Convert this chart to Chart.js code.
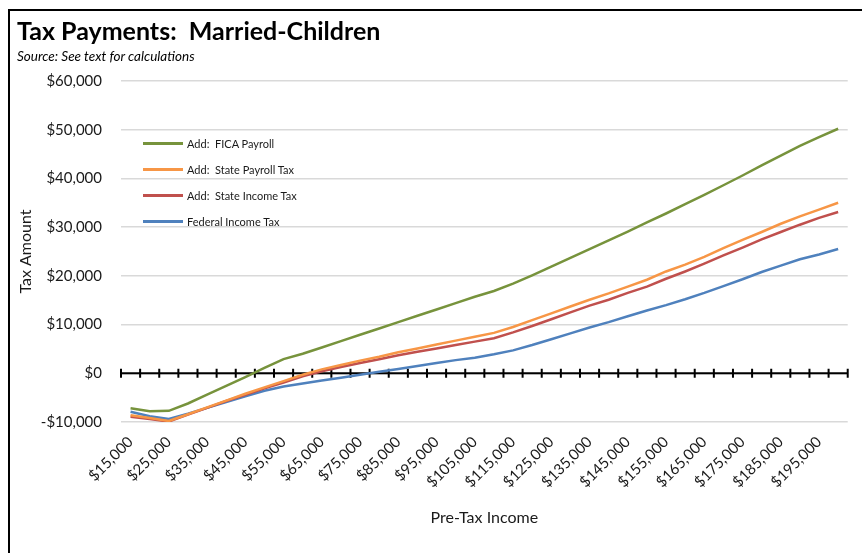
<!DOCTYPE html>
<html>
<head>
<meta charset="utf-8">
<script src="https://cdn.jsdelivr.net/npm/chart.js@4.4.1/dist/chart.umd.min.js"></script>
<style>
  html, body { margin: 0; padding: 0; background: #fff; overflow: hidden; }
  #wrap { position: relative; width: 862px; height: 553px; }
  #frame { position: absolute; left: 8px; top: 9px; width: 900px; height: 600px; border: 2px solid #000; }
  #title { position: absolute; left: 17px; top: 15px; font: bold 25px Lato, sans-serif; color: #000; white-space: pre; }
  #subtitle { position: absolute; left: 17px; top: 48px; font: italic 13.5px Lato, sans-serif; color: #000; }
  #legend { position: absolute; left: 143px; top: 130px; font: 11px Lato, sans-serif; color: #1a1a1a; }
  .item { height: 26.2px; display: flex; align-items: center; white-space: pre; }
  .swatch { width: 40px; height: 3px; margin-right: 4px; }
  canvas { position: absolute; left: 0; top: 0; }
</style>
</head>
<body>
<div id="wrap">
  <div id="frame"></div>
  <canvas id="taxChart" width="862" height="553"></canvas>
  <div id="title">Tax Payments:  Married-Children</div>
  <div id="subtitle">Source:  See text for calculations</div>
  <div id="legend"></div>
</div>
<script>
// Pre-tax income categories
let incomes = [15000, 20000, 25000, 30000, 35000, 40000, 45000, 50000, 55000, 60000,
    65000, 70000, 75000, 80000, 85000, 90000, 95000, 100000, 105000, 110000,
    115000, 120000, 125000, 130000, 135000, 140000, 145000, 150000, 155000, 160000,
    165000, 170000, 175000, 180000, 185000, 190000, 195000, 200000];

// Cumulative tax amounts
let ficaPayroll = [-7200, -7800, -7700, -6200, -4400, -2600, -800, 1100, 2900, 4000,
    5300, 6600, 7900, 9200, 10500, 11800, 13100, 14400, 15700, 16900,
    18400, 20100, 21900, 23700, 25500, 27300, 29100, 31000, 32800, 34700,
    36600, 38600, 40600, 42700, 44700, 46700, 48500, 50200];
let statePayroll = [-8600, -9200, -9800, -8400, -7000, -5600, -4200, -2900, -1600, -300,
    800, 1700, 2600, 3400, 4300, 5100, 5900, 6700, 7500, 8300,
    9500, 10900, 12300, 13700, 15100, 16400, 17800, 19200, 20900, 22300,
    23900, 25700, 27400, 29000, 30700, 32200, 33600, 35000];
let stateIncome = [-8900, -9400, -9900, -8500, -7100, -5700, -4400, -3100, -1900, -600,
    400, 1300, 2100, 2900, 3700, 4400, 5100, 5800, 6500, 7200,
    8400, 9700, 11100, 12500, 13900, 15100, 16500, 17800, 19400, 20900,
    22500, 24200, 25800, 27500, 29000, 30500, 31900, 33100];
let federalIncome = [-7900, -8800, -9400, -8300, -7100, -5900, -4700, -3600, -2700, -2100,
    -1500, -900, -300, 300, 900, 1500, 2100, 2700, 3200, 3900,
    4700, 5800, 7000, 8200, 9400, 10500, 11700, 12900, 14000, 15200,
    16500, 17900, 19300, 20800, 22100, 23400, 24400, 25500];

let seriesNames = ['Add:  FICA Payroll', 'Add:  State Payroll Tax', 'Add:  State Income Tax', 'Federal Income Tax'];
let seriesColors = ['#77933C', '#F79646', '#C0504D', '#4F81BD'];
let seriesData = [ficaPayroll, statePayroll, stateIncome, federalIncome];

let yMin = -10000, yMax = 60000, yStep = 10000;

function money(v) {
    let s = '$' + Math.abs(v).toLocaleString('en-US');
    return v < 0 ? '-' + s : s;
}

// black zero axis with tick marks between categories
const zeroAxis = {
    id: 'zeroAxis',
    beforeDatasetsDraw(chart) {
        const { ctx, chartArea, scales: { x, y } } = chart;
        const y0 = y.getPixelForValue(0);
        const half = (x.getPixelForValue(1) - x.getPixelForValue(0)) / 2;
        ctx.save();
        ctx.strokeStyle = '#000';
        ctx.lineWidth = 2;
        ctx.beginPath();
        ctx.moveTo(chartArea.left, y0);
        ctx.lineTo(chartArea.right, y0);
        for (let i = 0; i <= incomes.length; i++) {
            let px = i < incomes.length ? x.getPixelForValue(i) - half : x.getPixelForValue(i - 1) + half;
            ctx.moveTo(px, y0 - 4.5);
            ctx.lineTo(px, y0 + 4.5);
        }
        ctx.stroke();
        ctx.restore();
    }
};

let datasets = seriesData.map((d, i) => ({
    label: seriesNames[i],
    data: d,
    borderColor: seriesColors[i],
    backgroundColor: seriesColors[i],
    borderWidth: 2.5,
    pointRadius: 0,
    tension: 0,
    fill: false
}));

// HTML legend inside the plot
let legend = document.getElementById('legend');
datasets.forEach(ds => {
    let row = document.createElement('div');
    row.className = 'item';
    row.innerHTML = '<span class="swatch" style="background:' + ds.borderColor + '"></span><span>' + ds.label + '</span>';
    legend.appendChild(row);
});

let ctx = document.getElementById('taxChart').getContext('2d');
let taxChart = new Chart(ctx, {
    type: 'line',
    data: {
        labels: incomes.map(money),
        datasets: datasets
    },
    options: {
        responsive: false,
        animation: false,
        devicePixelRatio: 1,
        layout: { padding: { top: 81, right: 9, left: 0, bottom: 0 } },
        plugins: {
            legend: { display: false },
            tooltip: { enabled: false }
        },
        scales: {
            x: {
                type: 'category',
                offset: true,
                grid: { display: false, drawTicks: false },
                border: { display: false },
                ticks: {
                    autoSkip: false,
                    minRotation: 45,
                    maxRotation: 45,
                    padding: 11,
                    color: '#1a1a1a',
                    font: { family: 'Lato', size: 15 },
                    callback: function(val, idx) {
                        return idx % 2 === 0 ? this.getLabelForValue(val) : '';
                    }
                },
                title: {
                    display: true,
                    text: 'Pre-Tax Income',
                    color: '#1a1a1a',
                    font: { family: 'Lato', size: 16 },
                    padding: { top: 0, bottom: 26 }
                },
                afterFit: s => { s.height = 131; }
            },
            y: {
                min: yMin,
                max: yMax,
                ticks: {
                    stepSize: yStep,
                    padding: 19,
                    color: '#1a1a1a',
                    font: { family: 'Lato', size: 15 },
                    callback: v => money(v)
                },
                grid: {
                    color: '#d9d9d9',
                    lineWidth: 1.5,
                    drawTicks: false
                },
                border: { display: false },
                title: {
                    display: true,
                    text: 'Tax Amount',
                    color: '#1a1a1a',
                    font: { family: 'Lato', size: 16 },
                    padding: { top: 16, bottom: 0 }
                },
                afterFit: s => { s.width = 121; }
            }
        }
    },
    plugins: [zeroAxis]
});
</script>
</body>
</html>
